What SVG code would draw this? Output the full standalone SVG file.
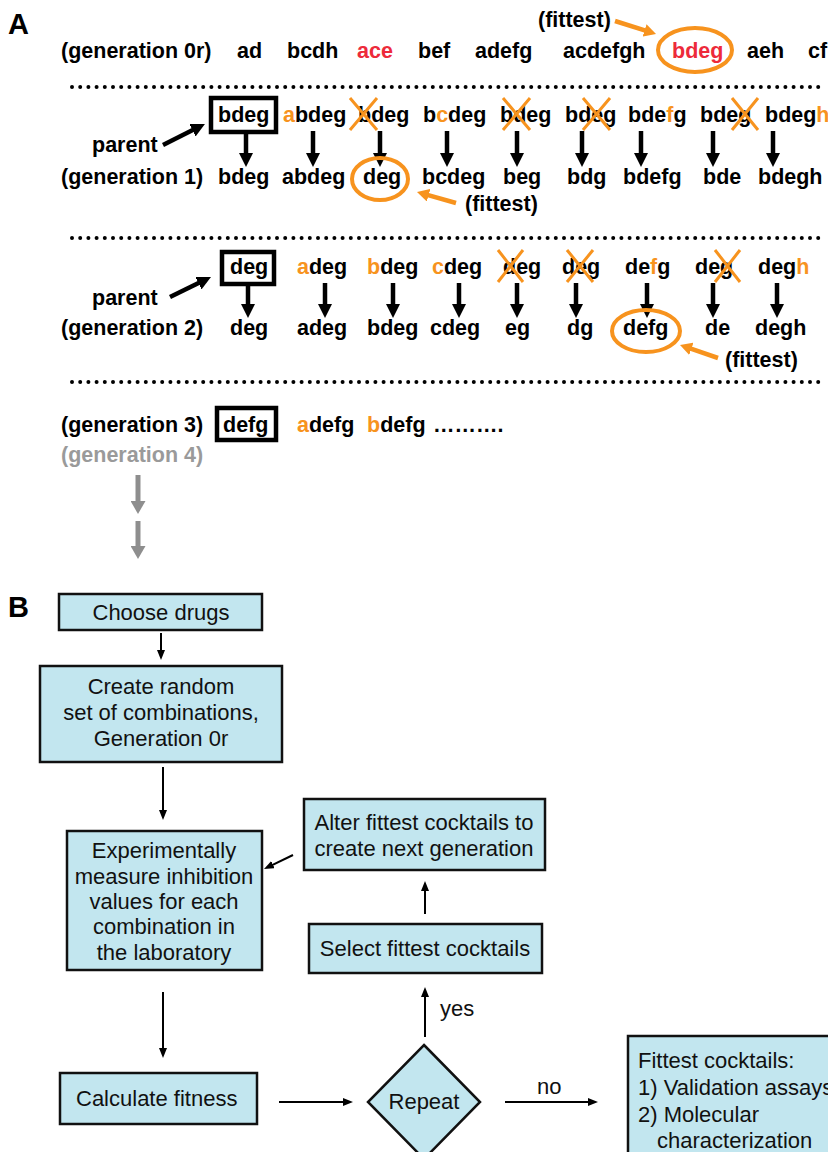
<svg xmlns="http://www.w3.org/2000/svg" width="828" height="1152" viewBox="0 0 828 1152">
<style>
.t{font-family:"Liberation Sans",Arial,Helvetica,sans-serif;font-weight:bold;font-size:21.5px;fill:#000}
.o{fill:#F7931E}
.r{fill:#ED2A3A}
.gy{fill:#9a9a9a}
.f{font-family:"Liberation Sans",Arial,Helvetica,sans-serif;font-size:22px;fill:#111}
.m{text-anchor:middle}
.box{fill:#C2E6EF;stroke:#111;stroke-width:2.5}
.pbox{fill:none;stroke:#000;stroke-width:4.5}
.ring{fill:none;stroke:#F7931E;stroke-width:4}
.dots{stroke:#000;stroke-width:4;stroke-linecap:round;stroke-dasharray:0 8.2}
.cross{stroke:#F7931E;stroke-width:3}
.ab{stroke:#000;stroke-width:4.5;marker-end:url(#mb)}
.ao{stroke:#F7931E;stroke-width:4.5;marker-end:url(#mo)}
.ag{stroke:#8e8e8e;stroke-width:5;marker-end:url(#mg)}
.as{stroke:#000;stroke-width:2;marker-end:url(#ms)}
</style>
<defs>
<marker id="mb" viewBox="0 0 14 14" refX="7" refY="7" markerWidth="14" markerHeight="14" markerUnits="userSpaceOnUse" orient="auto"><path d="M0,0 L14,7 L0,14 z" fill="#000"/></marker>
<marker id="mo" viewBox="0 0 12 13" refX="6" refY="6.5" markerWidth="12" markerHeight="13" markerUnits="userSpaceOnUse" orient="auto"><path d="M0,0 L12,6.5 L0,13 z" fill="#F7931E"/></marker>
<marker id="mg" viewBox="0 0 13 15" refX="6" refY="7.5" markerWidth="13" markerHeight="15" markerUnits="userSpaceOnUse" orient="auto"><path d="M0,0 L13,7.5 L0,15 z" fill="#8e8e8e"/></marker>
<marker id="ms" viewBox="0 0 10 8" refX="5" refY="4" markerWidth="10" markerHeight="8" markerUnits="userSpaceOnUse" orient="auto"><path d="M0,0 L10,4 L0,8 z" fill="#000"/></marker>
</defs>

<g id="panelA">
<text class="t" x="8" y="34" style="font-size:29px">A</text>
<line class="dots" x1="72" y1="87" x2="826" y2="87"/>
<line class="dots" x1="72" y1="238" x2="822" y2="238"/>
<line class="dots" x1="72" y1="382" x2="822" y2="382"/>

<g id="gen0">
<text class="t" x="61" y="58">(generation 0r)</text>
<text class="t" x="237" y="58">ad</text>
<text class="t" x="287" y="58">bcdh</text>
<text class="t r" x="357" y="58">ace</text>
<text class="t" x="418" y="58">bef</text>
<text class="t" x="475" y="58">adefg</text>
<text class="t" x="563" y="58">acdefgh</text>
<text class="t r" x="672" y="58">bdeg</text>
<text class="t" x="747" y="58">aeh</text>
<text class="t" x="808" y="58">cf</text>
<ellipse class="ring" cx="695" cy="50" rx="37" ry="22"/>
<text class="t" x="538" y="27">(fittest)</text>
<line class="ao" x1="615" y1="21" x2="650.3" y2="32.2"/>
</g>

<g id="gen1">
<text class="t" x="92" y="152">parent</text>
<line class="ab" x1="163" y1="145" x2="198.7" y2="127.1"/>
<rect class="pbox" x="211" y="98" width="65" height="34"/>
<text class="t" x="218" y="122">bdeg</text>
<text class="t" x="283" y="122"><tspan class="o">a</tspan>bdeg</text>
<text class="t" x="358" y="122">bdeg</text>
<path class="cross" d="M350,98 L377,130 M377,98 L350,130"/>
<text class="t" x="423" y="122">b<tspan class="o">c</tspan>deg</text>
<text class="t" x="500" y="122">bdeg</text>
<path class="cross" d="M503,98 L530,130 M530,98 L503,130"/>
<text class="t" x="565" y="122">bdeg</text>
<path class="cross" d="M583,98 L610,130 M610,98 L583,130"/>
<text class="t" x="628" y="122">bde<tspan class="o">f</tspan>g</text>
<text class="t" x="700" y="122">bdeg</text>
<path class="cross" d="M732,98 L758,130 M758,98 L732,130"/>
<text class="t" x="765" y="122">bdeg<tspan class="o">h</tspan></text>

<g id="gen1-arrows">
<line class="ab" x1="246" y1="133" x2="246" y2="160"/>
<line class="ab" x1="313" y1="131" x2="313" y2="160"/>
<line class="ab" x1="380" y1="131" x2="380" y2="160"/>
<line class="ab" x1="447" y1="131" x2="447" y2="160"/>
<line class="ab" x1="517" y1="131" x2="517" y2="160"/>
<line class="ab" x1="582" y1="131" x2="582" y2="160"/>
<line class="ab" x1="641" y1="131" x2="641" y2="160"/>
<line class="ab" x1="713" y1="131" x2="713" y2="160"/>
<line class="ab" x1="773" y1="131" x2="773" y2="160"/>
</g>

<text class="t" x="61" y="184">(generation 1)</text>
<text class="t" x="218" y="184">bdeg</text>
<text class="t" x="282" y="184">abdeg</text>
<text class="t" x="363" y="184">deg</text>
<text class="t" x="422" y="184">bcdeg</text>
<text class="t" x="503" y="184">beg</text>
<text class="t" x="567" y="184">bdg</text>
<text class="t" x="623" y="184">bdefg</text>
<text class="t" x="703" y="184">bde</text>
<text class="t" x="758" y="184">bdegh</text>
<ellipse class="ring" cx="380" cy="179" rx="28" ry="21"/>
<line class="ao" x1="456" y1="203" x2="422.8" y2="193.6"/>
<text class="t" x="465" y="211">(fittest)</text>
</g>

<g id="gen2">
<text class="t" x="92" y="305">parent</text>
<line class="ab" x1="170" y1="297" x2="204.7" y2="280.1"/>
<rect class="pbox" x="222" y="252" width="52" height="32"/>
<text class="t" x="230" y="274">deg</text>
<text class="t" x="297" y="274"><tspan class="o">a</tspan>deg</text>
<text class="t" x="367" y="274"><tspan class="o">b</tspan>deg</text>
<text class="t" x="432" y="274"><tspan class="o">c</tspan>deg</text>
<text class="t" x="503" y="274">deg</text>
<path class="cross" d="M498,250 L523,282 M523,250 L498,282"/>
<text class="t" x="562" y="274">deg</text>
<path class="cross" d="M567,250 L593,282 M593,250 L567,282"/>
<text class="t" x="625" y="274">de<tspan class="o">f</tspan>g</text>
<text class="t" x="695" y="274">deg</text>
<path class="cross" d="M715,250 L740,282 M740,250 L715,282"/>
<text class="t" x="758" y="274">deg<tspan class="o">h</tspan></text>

<g id="gen2-arrows">
<line class="ab" x1="248" y1="286" x2="248" y2="311"/>
<line class="ab" x1="325" y1="283" x2="325" y2="311"/>
<line class="ab" x1="393" y1="283" x2="393" y2="311"/>
<line class="ab" x1="459" y1="283" x2="459" y2="311"/>
<line class="ab" x1="517" y1="283" x2="517" y2="311"/>
<line class="ab" x1="576" y1="283" x2="576" y2="311"/>
<line class="ab" x1="647" y1="283" x2="647" y2="311"/>
<line class="ab" x1="713" y1="283" x2="713" y2="311"/>
<line class="ab" x1="777" y1="283" x2="777" y2="311"/>
</g>

<text class="t" x="61" y="335">(generation 2)</text>
<text class="t" x="230" y="335">deg</text>
<text class="t" x="297" y="335">adeg</text>
<text class="t" x="367" y="335">bdeg</text>
<text class="t" x="430" y="335">cdeg</text>
<text class="t" x="505" y="335">eg</text>
<text class="t" x="567" y="335">dg</text>
<text class="t" x="623" y="335">defg</text>
<text class="t" x="705" y="335">de</text>
<text class="t" x="755" y="335">degh</text>
<ellipse class="ring" cx="646" cy="331" rx="34" ry="21"/>
<line class="ao" x1="718" y1="358" x2="685.7" y2="346.9"/>
<text class="t" x="725" y="367">(fittest)</text>
</g>

<g id="gen3">
<text class="t" x="61" y="432">(generation 3)</text>
<rect class="pbox" x="217" y="408" width="59" height="32"/>
<text class="t" x="223" y="432">defg</text>
<text class="t" x="297" y="432"><tspan class="o">a</tspan>defg</text>
<text class="t" x="367" y="432"><tspan class="o">b</tspan>defg</text>
<text class="t" x="433" y="432">……….</text>
<text class="t gy" x="61" y="462">(generation 4)</text>
<line class="ag" x1="138" y1="475" x2="138" y2="507"/>
<line class="ag" x1="138" y1="521" x2="138" y2="552"/>
</g>
</g>

<g id="panelB">
<text class="t" x="8" y="617" style="font-size:29px">B</text>

<g id="choose">
<rect class="box" x="59" y="594" width="203" height="36"/>
<text class="f m" x="161" y="620">Choose drugs</text>
</g>
<g id="create">
<rect class="box" x="40" y="666" width="242" height="96"/>
<text class="f m" x="161" y="694">Create random</text>
<text class="f m" x="161" y="720">set of combinations,</text>
<text class="f m" x="161" y="746">Generation 0r</text>
</g>
<g id="measure">
<rect class="box" x="67" y="831" width="195" height="139"/>
<text class="f m" x="164" y="858">Experimentally</text>
<text class="f m" x="164" y="884">measure inhibition</text>
<text class="f m" x="164" y="909">values for each</text>
<text class="f m" x="164" y="934">combination in</text>
<text class="f m" x="164" y="960">the laboratory</text>
</g>
<g id="alter">
<rect class="box" x="304" y="799" width="241" height="71"/>
<text class="f m" x="424" y="830">Alter fittest cocktails to</text>
<text class="f m" x="424" y="856">create next generation</text>
</g>
<g id="select">
<rect class="box" x="309" y="924" width="233" height="49"/>
<text class="f m" x="425" y="956">Select fittest cocktails</text>
</g>
<g id="calc">
<rect class="box" x="60" y="1073" width="197" height="51"/>
<text class="f" x="76" y="1106">Calculate fitness</text>
</g>
<g id="repeat">
<polygon class="box" points="424,1045 480,1102 424,1159 368,1102"/>
<text class="f m" x="424" y="1109">Repeat</text>
</g>
<g id="final">
<rect class="box" x="628" y="1036" width="210" height="130"/>
<text class="f" x="638" y="1068">Fittest cocktails:</text>
<text class="f" x="638" y="1095">1) Validation assays</text>
<text class="f" x="638" y="1122">2) Molecular</text>
<text class="f" x="657" y="1148">characterization</text>
</g>

<g id="connectors">
<line class="as" x1="161" y1="633" x2="161" y2="655"/>
<line class="as" x1="163" y1="767" x2="163" y2="815"/>
<line class="as" x1="163" y1="992" x2="163" y2="1053"/>
<line class="as" x1="279" y1="1102" x2="348" y2="1102"/>
<line class="as" x1="425" y1="1037" x2="425" y2="992"/>
<line class="as" x1="425" y1="914" x2="425" y2="886"/>
<line class="as" x1="293" y1="855" x2="268.5" y2="866.8"/>
<line class="as" x1="505" y1="1102" x2="593" y2="1102"/>
<text class="f" x="440" y="1016">yes</text>
<text class="f" x="537" y="1094">no</text>
</g>
</g>
</svg>
